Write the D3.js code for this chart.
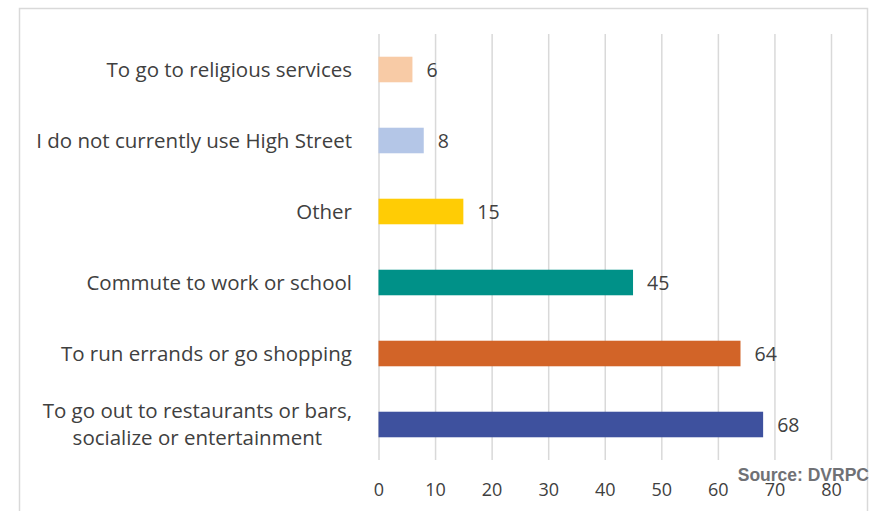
<!DOCTYPE html>
<html>
<head>
<meta charset="utf-8">
<script src="https://cdn.jsdelivr.net/npm/d3@7"></script>
<style>
  html, body { margin: 0; padding: 0; background: #ffffff; }
  svg { display: block; }
  text { font-family: "Open Sans", Lato, sans-serif; fill: #404040; }
</style>
</head>
<body>
<svg id="chart" width="881" height="511"></svg>
<script>
// Reasons for using High Street (respondent counts)
const categories = [
  ["To go to religious services"],
  ["I do not currently use High Street"],
  ["Other"],
  ["Commute to work or school"],
  ["To run errands or go shopping"],
  ["To go out to restaurants or bars,", "socialize or entertainment"]
];
const values = [6, 8, 15, 45, 64, 68];
const barColors = ["#F8CBA6", "#B4C6E7", "#FFCC05", "#009188", "#D26428", "#3E519E"];
const tickValues = [0, 10, 20, 30, 40, 50, 60, 70, 80];
const sourceNote = "Source: DVRPC";

const svg = d3.select("#chart");
const plot = { left: 378.5, right: 831, top: 34, bottom: 460 };
const fontMain = "'Open Sans', Lato, sans-serif";

// Outer frame
svg.append("rect")
  .attr("x", 19.5).attr("y", 8.5)
  .attr("width", 848).attr("height", 520)
  .attr("fill", "#ffffff")
  .attr("stroke", "#d9d9d9")
  .attr("stroke-width", 1.5);

const x = d3.scaleLinear().domain([0, 80]).range([plot.left, plot.right]);
const y = d3.scaleBand()
  .domain(d3.range(categories.length))
  .range([plot.top, plot.bottom])
  .paddingInner(0.64)
  .paddingOuter(0.32);

// Vertical gridlines + tick labels
const xAxis = d3.axisBottom(x)
  .tickValues(tickValues)
  .tickSizeInner(-(plot.bottom - plot.top))
  .tickSizeOuter(0)
  .tickPadding(23)
  .tickFormat(d3.format("d"));

const gx = svg.append("g")
  .attr("transform", `translate(0,${plot.bottom})`)
  .call(xAxis);
gx.select(".domain").remove();
gx.selectAll(".tick line").attr("stroke", "#d9d9d9").attr("stroke-width", 1.5);
gx.selectAll(".tick text")
  .attr("fill", "#404040")
  .style("font-family", fontMain)
  .style("font-size", "18px");

// Bars
svg.append("g").selectAll("rect")
  .data(values)
  .join("rect")
  .attr("x", x(0))
  .attr("y", (d, i) => y(i))
  .attr("width", d => x(d) - x(0))
  .attr("height", y.bandwidth())
  .attr("fill", (d, i) => barColors[i]);

// Value labels
svg.append("g").selectAll("text")
  .data(values)
  .join("text")
  .attr("x", d => x(d) + 14)
  .attr("y", (d, i) => y(i) + y.bandwidth() / 2)
  .attr("dy", "0.36em")
  .style("font-size", "19.5px")
  .text(d => d);

// Category labels (right-aligned block; multi-line labels are centred)
const labelRight = 352;
const lineH = 27;
const catG = svg.append("g");
categories.forEach((lines, i) => {
  const cy = y(i) + y.bandwidth() / 2;
  const t = catG.append("text")
    .style("font-size", "20.5px");
  lines.forEach((ln, k) => {
    t.append("tspan")
      .attr("x", 0)
      .attr("y", cy + (k - (lines.length - 1) / 2) * lineH)
      .attr("dy", "0.36em")
      .text(ln);
  });
  const widths = t.selectAll("tspan").nodes().map(n => n.getComputedTextLength());
  const maxW = d3.max(widths);
  if (lines.length === 1) {
    t.attr("text-anchor", "end");
    t.selectAll("tspan").attr("x", labelRight);
  } else {
    t.attr("text-anchor", "middle");
    t.selectAll("tspan").attr("x", labelRight - maxW / 2);
  }
});

// Source note
svg.append("text")
  .attr("x", 869)
  .attr("y", 481)
  .attr("text-anchor", "end")
  .style("font-family", "'Liberation Sans', Arial, sans-serif")
  .style("font-weight", "bold")
  .style("font-size", "17.5px")
  .style("fill", "#707175")
  .text(sourceNote);
</script>
</body>
</html>
